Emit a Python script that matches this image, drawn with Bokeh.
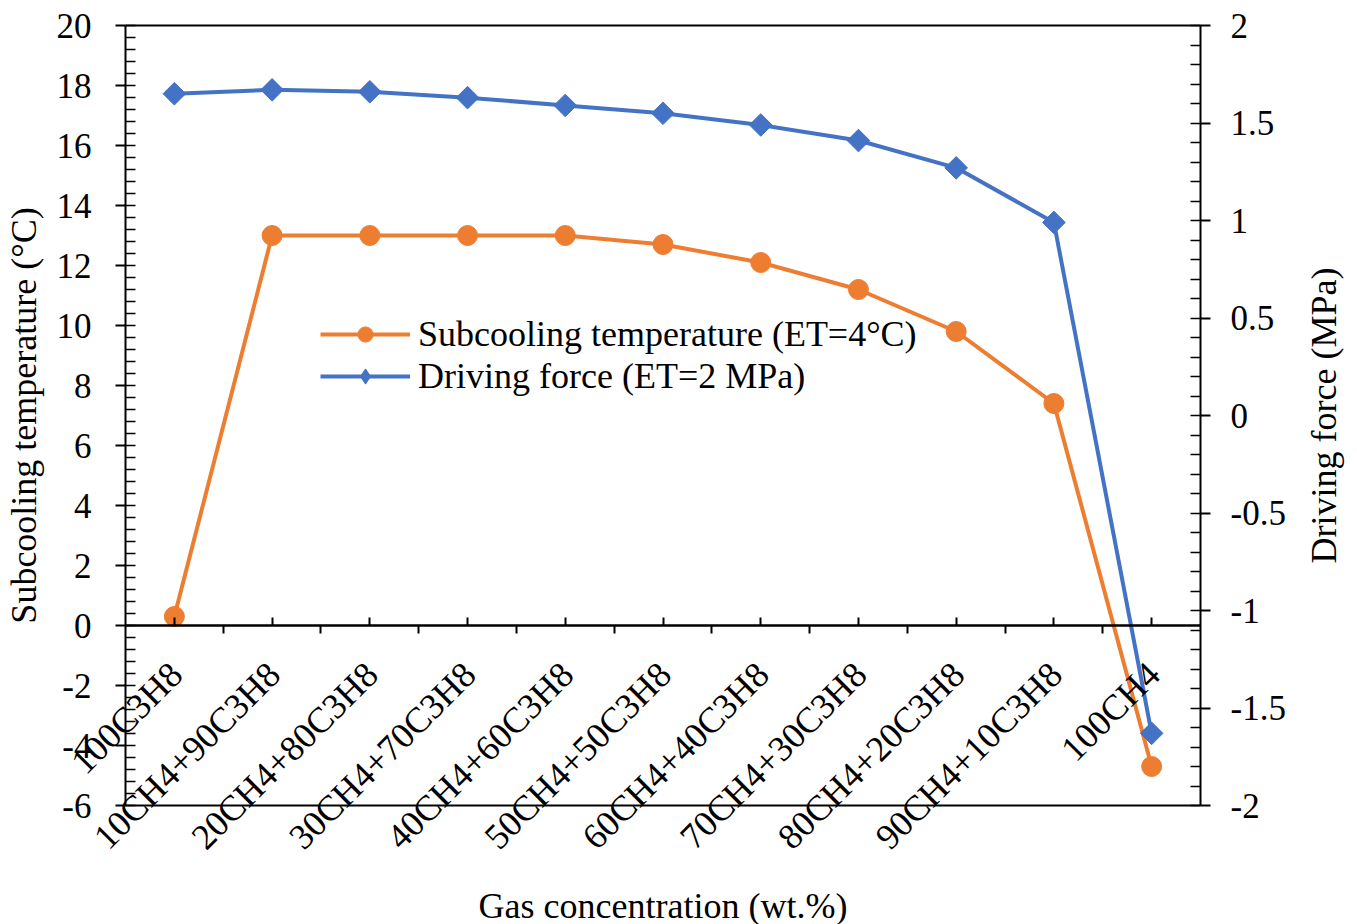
import math
from bokeh.plotting import figure
from bokeh.models import (Range1d, LinearAxis, FixedTicker, Legend, LegendItem, Label)
from bokeh.embed import file_html
from bokeh.resources import INLINE

categories = ["100C3H8", "10CH4+90C3H8", "20CH4+80C3H8", "30CH4+70C3H8", "40CH4+60C3H8",
              "50CH4+50C3H8", "60CH4+40C3H8", "70CH4+30C3H8", "80CH4+20C3H8",
              "90CH4+10C3H8", "100CH4"]
subcooling = [0.3, 13.0, 13.0, 13.0, 13.0, 12.7, 12.1, 11.2, 9.8, 7.4, -4.7]
driving = [1.65, 1.67, 1.66, 1.63, 1.59, 1.55, 1.49, 1.41, 1.27, 0.99, -1.63]
left_ticks = [-6, -4, -2, 0, 2, 4, 6, 8, 10, 12, 14, 16, 18, 20]
right_ticks = [-2, -1.5, -1, -0.5, 0, 0.5, 1, 1.5, 2]
right_labels = ["-2", "-1.5", "-1", "-0.5", "0", "0.5", "1", "1.5", "2"]

FONT = "Liberation Serif"
ORANGE = "#ED7D31"
BLUE = "#4472C4"
TICK_FS = "35px"
TITLE_FS = "36px"

W, H = 1357, 924
# plot box in pixels (left, right, top, bottom)
BL, BR, BT, BB = 125, 1200, 25, 805

n = len(categories)
xpos = [i + 0.5 for i in range(n)]  # category centres on the index scale

lmin, lmax = left_ticks[0], left_ticks[-1]
rmin, rmax = right_ticks[0], right_ticks[-1]
xppu = (BR - BL) / n
lppu = (BB - BT) / (lmax - lmin)
rppu = (BB - BT) / (rmax - rmin)

# the frame fills the whole canvas so that rotated labels are not clipped
p = figure(width=W, height=H,
           x_range=Range1d(-BL / xppu, n + (W - BR) / xppu),
           y_range=Range1d(lmin - (H - BB) / lppu, lmax + BT / lppu),
           output_backend="svg", toolbar_location=None,
           x_axis_location=None, y_axis_location=None,
           min_border_left=0, min_border_right=0, min_border_top=0, min_border_bottom=0)
p.extra_y_ranges = {"right": Range1d(rmin - (H - BB) / rppu, rmax + BT / rppu)}
p.xgrid.visible = False
p.ygrid.visible = False
p.outline_line_color = None
p.background_fill_color = "white"
p.border_fill_color = "white"

def style_axis(ax):
    ax.axis_line_color = "black"
    ax.axis_line_width = 2
    ax.major_tick_line_color = "black"
    ax.major_tick_line_width = 2
    ax.minor_tick_line_color = "black"
    ax.minor_tick_line_width = 1.5
    ax.major_label_text_font = FONT
    ax.major_label_text_font_size = TICK_FS
    ax.major_label_text_color = "black"
    ax.axis_label_text_font = FONT
    ax.axis_label_text_font_size = TITLE_FS
    ax.axis_label_text_font_style = "normal"
    ax.axis_label_text_color = "black"

def no_ticks(ax):
    ax.major_tick_out = 0
    ax.major_tick_in = 0
    ax.minor_tick_out = 0
    ax.minor_tick_in = 0
    ax.major_label_text_font_size = "0px"
    ax.major_label_text_alpha = 0

# left axis at x = 0
la = LinearAxis(fixed_location=0, bounds=(lmin, lmax),
                ticker=FixedTicker(ticks=left_ticks,
                                   minor_ticks=[round(lmin + 0.4 * k, 2) for k in range(66)]),
                axis_label="Subcooling temperature (°C)")
style_axis(la)
la.major_tick_out = 10
la.major_tick_in = 0
la.minor_tick_in = 10
la.minor_tick_out = 0
la.major_label_standoff = 24
la.axis_label_standoff = 10
la.major_label_overrides = {t: str(t) for t in left_ticks}
p.add_layout(la, "left")

# right axis at x = n
ra = LinearAxis(y_range_name="right", fixed_location=n, bounds=(rmin, rmax),
                ticker=FixedTicker(ticks=right_ticks,
                                   minor_ticks=[round(rmin + 0.1 * k, 2) for k in range(41)]))
style_axis(ra)
ra.major_tick_out = 10
ra.major_tick_in = 0
ra.minor_tick_in = 10
ra.minor_tick_out = 0
ra.major_label_standoff = 20
ra.major_label_overrides = {t: l for t, l in zip(right_ticks, right_labels)}
p.add_layout(ra, "right")

# right axis title, reading bottom to top, centred on the axis
p.add_layout(Label(x=n, y=(rmin + rmax) / 2, y_range_name="right", x_offset=123,
                   text="Driving force (MPa)", angle=math.pi / 2,
                   text_align="center", text_baseline="middle",
                   text_font=FONT, text_font_size=TITLE_FS, text_color="black"))

# top and bottom border lines of the plot box
top = LinearAxis(fixed_location=lmax, bounds=(0, n), ticker=FixedTicker(ticks=[], minor_ticks=[]))
style_axis(top)
no_ticks(top)
p.add_layout(top, "above")
bot = LinearAxis(fixed_location=lmin, bounds=(0, n), ticker=FixedTicker(ticks=[], minor_ticks=[]))
style_axis(bot)
no_ticks(bot)
p.add_layout(bot, "below")

# centre ticks at y = 0 (pointing up)
ca = LinearAxis(fixed_location=0, bounds=(0, n), ticker=FixedTicker(ticks=xpos, minor_ticks=[]))
style_axis(ca)
no_ticks(ca)
ca.major_tick_in = 8
p.add_layout(ca, "below")

# boundary ticks at y = 0 (pointing down)
ba = LinearAxis(fixed_location=0, bounds=(0, n),
                ticker=FixedTicker(ticks=list(range(1, n)), minor_ticks=[]))
style_axis(ba)
no_ticks(ba)
ba.major_tick_out = 8
p.add_layout(ba, "below")

# rotated category labels hanging from the zero line
for xc, name in zip(xpos, categories):
    p.add_layout(Label(x=xc, y=0, text=name, angle=math.pi / 4,
                       text_align="right", text_baseline="middle", x_offset=2, y_offset=-43,
                       text_font=FONT, text_font_size="36px", text_color="black"))

# x axis title
p.add_layout(Label(x=n / 2, y=lmin, y_offset=-100, text="Gas concentration (wt.%)",
                   text_align="center", text_baseline="middle",
                   text_font=FONT, text_font_size=TITLE_FS, text_color="black"))

l1 = p.line(xpos, subcooling, color=ORANGE, line_width=4)
s1 = p.scatter(xpos, subcooling, marker="circle", size=20, color=ORANGE)
l2 = p.line(xpos, driving, color=BLUE, line_width=4, y_range_name="right")
s2 = p.scatter(xpos, driving, marker="square", angle=math.pi / 4, size=16, color=BLUE,
               y_range_name="right")
# smaller markers used only for the legend swatches
s1_leg = p.scatter(xpos, subcooling, marker="circle", size=12, color=ORANGE, visible=False)
s2_leg = p.scatter(xpos, driving, marker="diamond", size=18, color=BLUE,
                   y_range_name="right", visible=False)

legend = Legend(items=[LegendItem(label="Subcooling temperature (ET=4°C)", renderers=[l1, s1_leg]),
                       LegendItem(label="Driving force (ET=2 MPa)", renderers=[l2, s2_leg])],
                location=(320, H - 397), orientation="vertical", click_policy="none")
legend.label_text_font = FONT
legend.label_text_font_size = "36px"
legend.label_text_line_height = 1.0
legend.label_text_color = "black"
legend.glyph_width = 90
legend.glyph_height = 38
legend.label_height = 38
legend.label_standoff = 8
legend.spacing = 0
legend.padding = 0
legend.margin = 0
legend.border_line_color = None
legend.background_fill_alpha = 0
p.add_layout(legend, "center")

open("out.html", "w").write(file_html(p, INLINE))
